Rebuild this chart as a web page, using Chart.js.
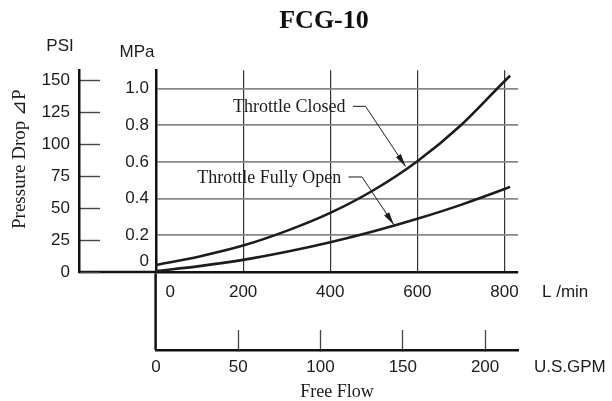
<!DOCTYPE html>
<html>
<head>
<meta charset="utf-8">
<script src="https://cdn.jsdelivr.net/npm/chart.js@4.4.1/dist/chart.umd.min.js"></script>
<style>
  html, body { margin: 0; padding: 0; background: #fff; }
  #wrap { width: 612px; height: 401px; }
</style>
</head>
<body>
<div id="wrap"><canvas id="fcgChart"></canvas></div>
<script>
// values
const flowLpm = [0, 100, 200, 300, 400, 500, 600, 700, 800, 813];
const closedMpa = [0.038, 0.085, 0.144, 0.224, 0.322, 0.447, 0.604, 0.800, 1.040, 1.070];
const openMpa = [0.005, 0.032, 0.066, 0.110, 0.162, 0.222, 0.290, 0.366, 0.452, 0.464];
const seriesNames = ['Throttle Closed', 'Throttle Fully Open'];

// tick labels
const lpmTicks = [0, 200, 400, 600, 800];
const gpmTicks = [0, 50, 100, 150, 200];
const mpaTicks = [0, 0.2, 0.4, 0.6, 0.8, 1.0];
const psiTicks = [0, 25, 50, 75, 100, 125, 150];

const SANS = '"Liberation Sans", Arial, sans-serif';
const SERIF = '"Liberation Serif", "DejaVu Serif", serif';
const INK = '#1c1c1c';

// callouts in data units: text right edge, text row, leader elbow, arrow tip
const callouts = [
  { text: seriesNames[0], textEnd: 435, row: 0.903, elbow: [452, 481], tip: [573, 0.575] },
  { text: seriesNames[1], textEnd: 425, row: 0.518, elbow: [442, 473], tip: [546, 0.258] }
];

const toPoints = (ys) => flowLpm.map((q, i) => ({ x: q, y: ys[i] }));
const fixTicks = (list) => (s) => { s.ticks = list.map(v => ({ value: v })); };

// unit captions + arrows
const extras = {
  id: 'extras',
  afterDraw(chart) {
    const { ctx, scales, chartArea } = chart;
    const sx = scales.x, sy = scales.y;
    ctx.save();
    ctx.font = '17px ' + SANS;
    ctx.fillStyle = INK;
    ctx.textBaseline = 'middle';
    ctx.textAlign = 'center';
    ctx.fillText('PSI', scales.psi.right - 19, chartArea.top - 24);
    ctx.fillText('MPa', sy.right - 19, chartArea.top - 18);
    ctx.textAlign = 'left';
    ctx.fillText('L /min', chartArea.right + 24, sx.top + 20);
    ctx.fillText('U.S.GPM', chartArea.right + 16, scales.gpm.top + 17);

    ctx.font = '18px ' + SERIF;
    ctx.textAlign = 'right';
    callouts.forEach(c => {
      const ty = sy.getPixelForValue(c.row);
      ctx.fillStyle = INK;
      ctx.fillText(c.text, sx.getPixelForValue(c.textEnd), ty + 1);
      const ex0 = sx.getPixelForValue(c.elbow[0]);
      const ex1 = sx.getPixelForValue(c.elbow[1]);
      const tx = sx.getPixelForValue(c.tip[0]);
      const tyy = sy.getPixelForValue(c.tip[1]);
      ctx.strokeStyle = INK;
      ctx.lineWidth = 1;
      ctx.beginPath();
      ctx.moveTo(ex0, ty);
      ctx.lineTo(ex1, ty);
      ctx.lineTo(tx, tyy);
      ctx.stroke();
      // arrow head
      const a = Math.atan2(tyy - ty, tx - ex1);
      const len = 13, hw = 3;
      ctx.beginPath();
      ctx.moveTo(tx, tyy);
      ctx.lineTo(tx - len * Math.cos(a) + hw * Math.sin(a), tyy - len * Math.sin(a) - hw * Math.cos(a));
      ctx.lineTo(tx - len * Math.cos(a) - hw * Math.sin(a), tyy - len * Math.sin(a) + hw * Math.cos(a));
      ctx.closePath();
      ctx.fill();
    });
    ctx.restore();
  }
};

const ctx = document.getElementById('fcgChart').getContext('2d');
new Chart(ctx, {
  type: 'line',
  data: {
    datasets: [
      { label: seriesNames[0], data: toPoints(closedMpa) },
      { label: seriesNames[1], data: toPoints(openMpa) }
    ]
  },
  options: {
    responsive: true,
    maintainAspectRatio: false,
    animation: false,
    layout: { padding: { left: 0, right: 94, top: 0, bottom: 0 } },
    elements: {
      point: { radius: 0 },
      line: { borderColor: INK, borderWidth: 2.6, tension: 0.4, cubicInterpolationMode: 'monotone', fill: false }
    },
    plugins: {
      legend: { display: false },
      tooltip: { enabled: false },
      title: {
        display: true,
        text: 'FCG-10    ',
        fullSize: false,
        color: '#111',
        font: { family: SERIF, size: 26, weight: 'bold' },
        padding: { top: 6, bottom: 33 }
      }
    },
    scales: {
      x: {
        type: 'linear', position: 'bottom', weight: 0,
        min: 0, max: 831,
        afterBuildTicks: fixTicks(lpmTicks),
        afterFit: s => { s.height = 78; },
        ticks: {
          autoSkip: false, padding: -68,
          color: INK, font: { family: SANS, size: 17 },
          callback: v => v === 0 ? '      0' : String(v)
        },
        grid: {
          color: '#333', lineWidth: 1.2,
          tickLength: 78,
          tickColor: c => c.tick && c.tick.value === 0 ? '#111' : 'rgba(0,0,0,0)',
          tickWidth: 2.5
        },
        border: { display: true, color: '#111', width: 2.5 }
      },
      gpm: {
        type: 'linear', position: 'bottom', weight: 1,
        min: 0, max: 220,
        afterBuildTicks: fixTicks(gpmTicks),
        afterFit: s => { s.height = 51; },
        ticks: {
          autoSkip: false, padding: 27,
          color: INK, font: { family: SANS, size: 17 }
        },
        grid: {
          drawOnChartArea: false,
          tickLength: -20,
          tickColor: c => c.tick && c.tick.value === 0 ? 'rgba(0,0,0,0)' : '#444',
          tickWidth: 1.3
        },
        border: { display: true, color: '#111', width: 2.5 },
        title: {
          display: true, text: 'Free Flow', color: INK,
          font: { family: SERIF, size: 18, lineHeight: 1 },
          padding: { top: 0, bottom: 0 }
        }
      },
      y: {
        type: 'linear', position: 'left', weight: 0,
        min: 0, max: 1.1,
        afterBuildTicks: fixTicks(mpaTicks),
        afterFit: s => { s.width = 77; },
        ticks: {
          autoSkip: false, padding: -70,
          color: INK, font: { family: SANS, size: 17 },
          callback: v => v === 0 ? ['0', ''] : v.toFixed(1)
        },
        grid: {
          color: c => c.tick && c.tick.value === 0 ? '#111' : '#888',
          lineWidth: 1.8,
          tickLength: 77,
          tickColor: c => c.tick && c.tick.value === 0 ? '#111' : 'rgba(0,0,0,0)',
          tickWidth: 2.5
        },
        border: { display: true, color: '#111', width: 2.5 }
      },
      psi: {
        type: 'linear', position: 'left', weight: 1,
        min: 0, max: 158,
        afterBuildTicks: fixTicks(psiTicks),
        afterFit: s => { s.width = 79; },
        ticks: {
          autoSkip: false, padding: 30,
          color: INK, font: { family: SANS, size: 17 }
        },
        grid: {
          drawOnChartArea: false,
          tickLength: -21,
          tickColor: '#444',
          tickWidth: 1.4
        },
        border: { display: true, color: '#111', width: 2.5 },
        title: {
          display: true, text: '     Pressure Drop \u22BFP', color: INK,
          font: { family: SERIF, size: 19 },
          padding: { top: 9, bottom: 0 }
        }
      }
    }
  },
  plugins: [extras]
});
</script>
</body>
</html>
